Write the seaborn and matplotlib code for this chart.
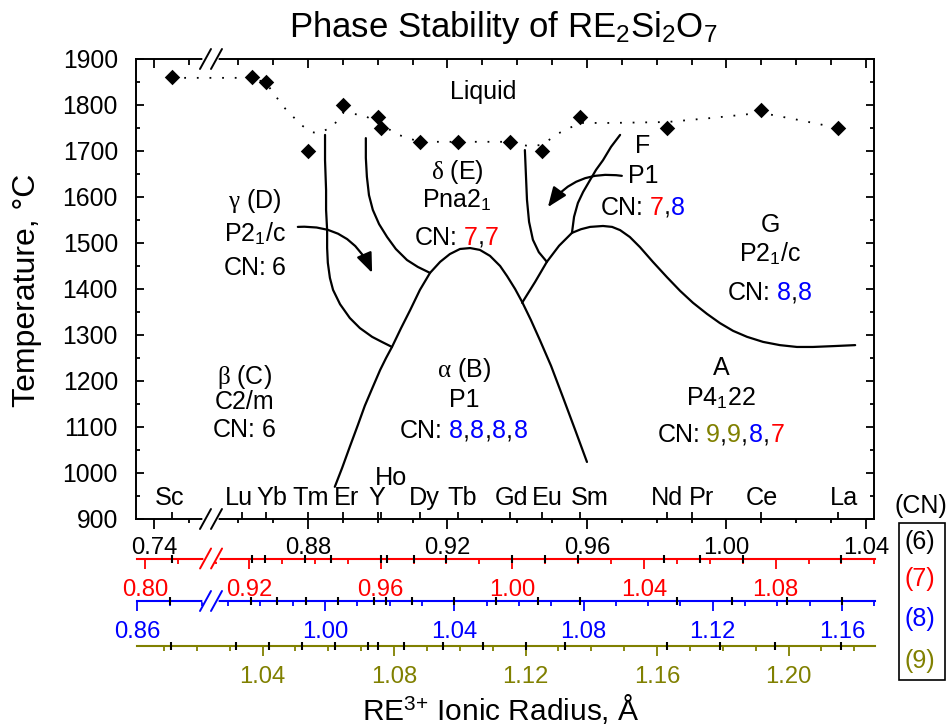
import numpy as np
import matplotlib
matplotlib.use("Agg")
import matplotlib.pyplot as plt
from matplotlib.lines import Line2D
from matplotlib.patches import Rectangle
from matplotlib.transforms import Affine2D
import seaborn as sns

sns.set_theme(style="ticks", rc={
    "axes.edgecolor": "black", "text.color": "black", "axes.labelcolor": "black",
    "xtick.color": "black", "ytick.color": "black", "axes.linewidth": 1.4,
    "figure.facecolor": "white", "axes.facecolor": "white",
})
plt.rcParams["font.family"] = ["Liberation Sans", "DejaVu Sans"]
plt.rcParams["mathtext.fontset"] = "custom"
plt.rcParams["mathtext.rm"] = "Liberation Sans"
plt.rcParams["mathtext.it"] = "Liberation Serif"
plt.rcParams["mathtext.bf"] = "Liberation Sans:bold"

RED, BLUE, OLIVE = "#ff0000", "#0000ff", "#808000"
CN_COLORS = {6: "black", 7: RED, 8: BLUE, 9: OLIVE}

# ---------------- ionic radii (Å) of the rare earths for each coordination number ----------------
elements   = ["Sc", "Lu", "Yb", "Tm", "Er", "Y", "Ho", "Dy", "Tb", "Gd", "Eu", "Sm", "Nd", "Pr", "Ce", "La"]
radius_cn6 = [0.745, 0.861, 0.868, 0.880, 0.890, 0.900, 0.901, 0.912, 0.923, 0.938, 0.947, 0.958, 0.983, 0.990, 1.010, 1.032]
radius_cn7 = [0.808, 0.921, 0.925, 0.937, 0.945, 0.960, 0.962, 0.970, 0.980, 1.000, 1.010, 1.020, 1.046, 1.057, 1.070, 1.100]
radius_cn8 = [0.870, 0.977, 0.985, 0.994, 1.004, 1.019, 1.015, 1.027, 1.040, 1.053, 1.066, 1.079, 1.109, 1.126, 1.143, 1.160]
radius_cn9 = [1.012, 1.032, 1.042, 1.052, 1.062, 1.075, 1.072, 1.083, 1.095, 1.107, 1.120, 1.132, 1.163, 1.179, 1.196, 1.216]

# ---------------- melting points of RE2Si2O7 (CN6 radius, °C) ----------------
melt_radius = [0.745, 0.864, 0.868, 0.880, 0.890, 0.900, 0.901, 0.912, 0.923, 0.938, 0.947, 0.958, 0.983, 1.010, 1.032]
melt_temp   = [1860, 1860, 1850, 1700, 1800, 1775, 1750, 1720, 1720, 1720, 1700, 1775, 1750, 1790, 1750]

# liquidus guide line
liquidus_radius = [0.745, 0.864, 0.868, 0.873, 0.878, 0.881, 0.883, 0.887, 0.890, 0.896, 0.901, 0.906,
                   0.912, 0.923, 0.938, 0.943, 0.947, 0.952, 0.958, 0.967, 0.983, 0.996, 1.010, 1.021, 1.032]
liquidus_temp   = [1859, 1859, 1848, 1796, 1757, 1741, 1739, 1752, 1783, 1778, 1757, 1735,
                   1720, 1720, 1720, 1711, 1713, 1739, 1761, 1761, 1763, 1772, 1783, 1767, 1750]

# ---------------- phase boundaries ----------------
gamma_beta_r  = [0.8849, 0.8849, 0.8852, 0.8852, 0.8855, 0.8855, 0.8857, 0.8863, 0.8872, 0.8892,
                 0.8920, 0.8949, 0.8984, 0.9012, 0.9041]
gamma_beta_T  = [1735, 1680, 1615, 1572, 1528, 1489, 1457, 1424, 1398, 1367, 1337, 1315, 1296, 1285, 1274]
gamma_delta_r = [0.8966, 0.8966, 0.8969, 0.8975, 0.8986, 0.9004, 0.9027, 0.9052, 0.9084, 0.9115, 0.9150]
gamma_delta_T = [1728, 1685, 1644, 1604, 1572, 1541, 1513, 1487, 1463, 1448, 1435]
alpha_r = [0.8877, 0.8898, 0.8920, 0.8943, 0.8963, 0.8986, 0.9007, 0.9024, 0.9041, 0.9067, 0.9093,
           0.9121, 0.9150, 0.9179, 0.9207, 0.9236, 0.9265, 0.9293, 0.9322, 0.9351, 0.9371, 0.9394,
           0.9414, 0.9439, 0.9465, 0.9497, 0.9531, 0.9566, 0.9600]
alpha_T = [970, 1011, 1057, 1104, 1146, 1187, 1224, 1250, 1274, 1315, 1354,
           1398, 1435, 1459, 1476, 1487, 1489, 1485, 1472, 1450, 1428, 1400,
           1372, 1333, 1289, 1233, 1165, 1094, 1024]
delta_f_r = [0.9422, 0.9425, 0.9428, 0.9434, 0.9445, 0.9462, 0.9485]
delta_f_T = [1702, 1648, 1594, 1546, 1507, 1480, 1459]
a_g_r = [0.9414, 0.9451, 0.9485, 0.9520, 0.9557, 0.9583, 0.9609, 0.9646, 0.9672, 0.9695, 0.9723,
         0.9752, 0.9789, 0.9829, 0.9867, 0.9904, 0.9944, 0.9981, 1.0019, 1.0059, 1.0105, 1.0153,
         1.0202, 1.0248, 1.0311, 1.0369]
a_g_T = [1370, 1415, 1459, 1494, 1522, 1530, 1535, 1537, 1535, 1528, 1513,
         1491, 1459, 1426, 1396, 1370, 1346, 1326, 1309, 1296, 1285, 1278,
         1274, 1274, 1276, 1278]
f_g_r = [0.9695, 0.9669, 0.9646, 0.9626, 0.9609, 0.9589, 0.9574, 0.9563, 0.9557]
f_g_T = [1735, 1709, 1680, 1659, 1637, 1611, 1587, 1557, 1522]

# arrows pointing from a label into a narrow field: (start, tip)
arrow_gamma = ((0.8771, 1535), (0.8984, 1435))
arrow_f     = ((0.9700, 1646), (0.9488, 1578))

# ---------------- axis tick values ----------------
temp_ticks = [900, 1000, 1100, 1200, 1300, 1400, 1500, 1600, 1700, 1800, 1900]
cn6_ticks = [0.74, 0.88, 0.92, 0.96, 1.00, 1.04]
cn7_ticks = [0.80, 0.92, 0.96, 1.00, 1.04, 1.08]
cn8_ticks = [0.86, 1.00, 1.04, 1.08, 1.12, 1.16]
cn9_ticks = [1.04, 1.08, 1.12, 1.16, 1.20]

# ---------------- phase field labels ----------------
phase_radius = [0.8648, 0.8617, 0.9227, 0.9247, 0.9761, 1.0125, 0.9984]
phase_title  = [r"$\gamma$ (D)", r"$\beta$ (C)", r"$\delta$ (E)", r"$\alpha$ (B)", "F", "G", "A"]
phase_group  = ["P2$_1$/c", "C2/m", "Pna2$_1$", "P1", "P1", "P2$_1$/c", "P4$_1$22"]
phase_cn     = [[6], [6], [7, 7], [8, 8, 8, 8], [7, 8], [8, 8], [9, 9, 8, 7]]
phase_rows_T = [(1576, 1504, 1430), (1193, 1139, 1078), (1639, 1578, 1496), (1209, 1143, 1076),
                (1696, 1630, 1561), (1524, 1459, 1376), (1213, 1148, 1067)]

# ---------------- layout ----------------
W, H = 948, 725
CN6_BREAK, CN6_LIM = (0.7563, 0.8522), (0.7348, 1.0423)
CN7_BREAK, CN7_LIM = (0.8200, 0.9085), (0.7975, 1.1102)
CN8_BREAK, CN8_LIM = (0.8828, 0.9647), (0.8599, 1.1702)
CN9_LIM = (1.0018, 1.2263)
label_nudge_px = {"Sc": -2, "Lu": -3, "Yb": 6, "Tm": 3, "Er": 4, "Y": -1, "Ho": 10, "Dy": 5,
                  "Tb": 4, "Gd": 1, "Eu": 6, "Sm": 10, "Nd": 0, "Pr": 10, "Ce": 1, "La": 6}
label_T = {"Ho": 974}
TEXT = 18


def fx(p):
    return p / W


def fy(p):
    return 1 - p / H


def broken_scale(lo, hi):
    gap = hi - lo

    def fwd(r):
        r = np.asarray(r, dtype=float)
        return np.where(r <= lo, r, np.where(r >= hi, r - gap, lo))

    def inv(t):
        t = np.asarray(t, dtype=float)
        return np.where(t <= lo, t, t + gap)
    return fwd, inv


def minor_between(start, stop, majors):
    vals = np.round(np.arange(start, stop + 1e-9, 0.01), 3)
    return [v for v in vals if not np.any(np.isclose(v, majors))]


def draw_break(axis, brk, lims, fwd, where, color):
    t = fwd(np.array([lims[0], brk[0], lims[1]]))
    frac = (t[1] - t[0]) / (t[2] - t[0])
    pos = axis.get_position()
    xc = pos.x0 + frac * pos.width
    yc = pos.y1 if where == "top" else pos.y0
    dx, dy, sep = 5.5 / W, 10 / H, 5.5 / W
    fig.add_artist(Line2D([xc - sep, xc + sep], [yc, yc], color="white", lw=4,
                          transform=fig.transFigure, zorder=3))
    for s in (-sep, sep):
        fig.add_artist(Line2D([xc + s - dx, xc + s + dx], [yc - dy, yc + dy], color=color, lw=1.4,
                              transform=fig.transFigure, zorder=4))


fig = plt.figure(figsize=(W / 100, H / 100), dpi=100)
ax = fig.add_axes([fx(136), fy(519), (874 - 136) / W, (519 - 59) / H])

# phase boundaries, liquidus and melting points
for r, t in [(gamma_beta_r, gamma_beta_T), (gamma_delta_r, gamma_delta_T), (alpha_r, alpha_T),
             (delta_f_r, delta_f_T), (a_g_r, a_g_T), (f_g_r, f_g_T)]:
    sns.lineplot(x=r, y=t, sort=False, estimator=None, color="black", linewidth=1.6, ax=ax)
sns.lineplot(x=liquidus_radius, y=liquidus_temp, sort=False, estimator=None, color="black",
             linewidth=1.3, linestyle=(0, (1, 6)), ax=ax)
sns.scatterplot(x=melt_radius, y=melt_temp, marker="D", s=62, color="black", linewidth=0,
                zorder=5, legend=False, ax=ax)

fwd6, inv6 = broken_scale(*CN6_BREAK)
ax.set_xscale("function", functions=(fwd6, inv6))
ax.set_xlim(*CN6_LIM)
ax.set_ylim(900, 1900)

ax.set_xticks(cn6_ticks, [f"{v:.2f}" for v in cn6_ticks])
ax.set_xticks([0.75] + minor_between(0.86, 1.04, cn6_ticks), minor=True)
ax.tick_params(axis="x", which="major", direction="out", length=7, width=1.3, labelsize=17.2, pad=6)
ax.tick_params(axis="x", which="minor", direction="out", length=3, width=1.3)
ax.set_yticks(temp_ticks, [str(v) for v in temp_ticks])
ax.set_yticks([v + 50 for v in temp_ticks[:-1]], minor=True)
ax.tick_params(axis="y", which="major", direction="in", length=6, width=1.3, left=True, right=True,
               labelsize=17.8, pad=13)
ax.tick_params(axis="y", which="minor", direction="in", length=3, width=1.3, left=True, right=True)

# inward ticks along the top edge
ax_top = ax.twiny()
ax_top.set_xscale("function", functions=(fwd6, inv6))
ax_top.set_xlim(*CN6_LIM)
ax_top.xaxis.set_ticks_position("top")
ax_top.set_xticks(cn6_ticks)
ax_top.set_xticks([0.75] + minor_between(0.86, 1.04, cn6_ticks), minor=True)
ax_top.tick_params(axis="x", which="major", direction="in", length=6.5, width=1.3, labeltop=False)
ax_top.tick_params(axis="x", which="minor", direction="in", length=4, width=1.3, labeltop=False)
for s in ax_top.spines.values():
    s.set_visible(False)

# element positions marked on the inside of the bottom edge
ax_el = ax.twiny()
ax_el.set_xscale("function", functions=(fwd6, inv6))
ax_el.set_xlim(*CN6_LIM)
ax_el.xaxis.set_ticks_position("bottom")
ax_el.set_xticks(radius_cn6)
ax_el.tick_params(axis="x", direction="in", length=5, width=1.3, labelbottom=False, labeltop=False)
ax_el.xaxis.set_minor_locator(matplotlib.ticker.NullLocator())
for s in ax_el.spines.values():
    s.set_visible(False)

for name, r in zip(elements, radius_cn6):
    ax.annotate(name, xy=(r, label_T.get(name, 930)), xytext=(label_nudge_px[name] * 0.72, 0),
                textcoords="offset points", ha="center", va="baseline", fontsize=18.2)

# arrows
ax.annotate("", xy=arrow_gamma[1], xytext=arrow_gamma[0],
            arrowprops=dict(arrowstyle="-|>,head_length=0.6,head_width=0.24",
                            connectionstyle="arc3,rad=-0.35", color="black", lw=1.6,
                            shrinkA=0, shrinkB=0, mutation_scale=20))
ax.annotate("", xy=arrow_f[1], xytext=arrow_f[0],
            arrowprops=dict(arrowstyle="-|>,head_length=0.6,head_width=0.24",
                            connectionstyle="arc3,rad=0.3", color="black", lw=1.6,
                            shrinkA=0, shrinkB=0, mutation_scale=20))

# phase field labels
ax.text(0.9302, 1813, "Liquid", ha="center", va="baseline", fontsize=TEXT)
cn_groups = []
for r, title, group, cns, rows in zip(phase_radius, phase_title, phase_group, phase_cn, phase_rows_T):
    ax.text(r, rows[0], title, ha="center", va="baseline", fontsize=TEXT)
    ax.text(r, rows[1], group, ha="center", va="baseline", fontsize=TEXT)
    first = ax.text(r, rows[2], "CN:", ha="left", va="baseline", fontsize=TEXT, color="black")
    pieces, prev = [first], first
    for k, n in enumerate(cns):
        gap = 4.0
        if k:
            prev = ax.annotate(",", xy=(1, 0), xycoords=prev, xytext=(0.0, 0), textcoords="offset points",
                               ha="left", va="bottom", fontsize=TEXT, color="black")
            pieces.append(prev)
            gap = 0.6
        prev = ax.annotate(str(n), xy=(1, 0), xycoords=prev, xytext=(gap, 0), textcoords="offset points",
                           ha="left", va="bottom", fontsize=TEXT, color=CN_COLORS[n])
        pieces.append(prev)
    cn_groups.append(pieces)


# secondary radius scales for CN 7, 8 and 9
def radius_axis(y_px, lims, brk, majors, minors, element_r, color):
    a = fig.add_axes([fx(137), fy(y_px), (875 - 137) / W, 0.01])
    fwd = inv = None
    if brk is not None:
        fwd, inv = broken_scale(*brk)
        a.set_xscale("function", functions=(fwd, inv))
    a.set_xlim(*lims)
    a.set_yticks([])
    a.patch.set_visible(False)
    for s in ("left", "right", "top"):
        a.spines[s].set_visible(False)
    a.spines["bottom"].set_color(color)
    a.spines["bottom"].set_linewidth(1.5)
    a.set_xticks(majors, [f"{v:.2f}" for v in majors])
    a.set_xticks(minors, minor=True)
    a.tick_params(axis="x", which="major", direction="out", length=7, width=1.3, color=color,
                  labelcolor=color, labelsize=17.2, pad=7.5)
    a.tick_params(axis="x", which="minor", direction="out", length=3.6, width=1.3, color=color)
    e = a.twiny()
    if brk is not None:
        e.set_xscale("function", functions=(fwd, inv))
    e.set_xlim(*lims)
    e.xaxis.set_ticks_position("bottom")
    e.set_xticks(element_r)
    e.xaxis.set_minor_locator(matplotlib.ticker.NullLocator())
    e.tick_params(axis="x", direction="inout", length=6, width=1.5, color="black",
                  labelbottom=False, labeltop=False)
    for s in e.spines.values():
        s.set_visible(False)
    if brk is not None:
        draw_break(a, brk, lims, fwd, "bottom", color)
    return a


radius_axis(558.5, CN7_LIM, CN7_BREAK, cn7_ticks, [0.81] + minor_between(0.91, 1.11, cn7_ticks), radius_cn7, RED)
radius_axis(601, CN8_LIM, CN8_BREAK, cn8_ticks, [0.87, 0.88] + minor_between(0.97, 1.17, cn8_ticks), radius_cn8, BLUE)
radius_axis(646, CN9_LIM, None, cn9_ticks, minor_between(1.01, 1.22, cn9_ticks), radius_cn9, OLIVE)

draw_break(ax, CN6_BREAK, CN6_LIM, fwd6, "bottom", "black")
draw_break(ax, CN6_BREAK, CN6_LIM, fwd6, "top", "black")

# titles and axis labels
fig.text(fx(503.5), fy(37), "Phase Stability of RE$_2$Si$_2$O$_7$", ha="center", va="baseline", fontsize=25)
fig.text(fx(27), fy(290), "Temperature, °C", rotation=90, ha="center", va="center", fontsize=23)
fig.text(fx(501), fy(720), r"RE$^{3{+}}$ Ionic Radius, Å", ha="center", va="baseline", fontsize=21.5)

# coordination-number key
fig.text(fx(921), fy(506), "(CN)", ha="center", va="center", fontsize=18)
for n, ypx in zip([6, 7, 8, 9], [542, 579, 619, 661]):
    fig.text(fx(920), fy(ypx), f"({n})", ha="center", va="center", fontsize=18, color=CN_COLORS[n])
fig.add_artist(Rectangle((fx(899), fy(680)), (945 - 899) / W, (680 - 523) / H, fill=False,
                         edgecolor="black", lw=1.2, transform=fig.transFigure))

# centre the multi-coloured CN lines on their anchor
fig.canvas.draw()
for pieces in cn_groups:
    x0 = pieces[0].get_window_extent().x0
    x1 = pieces[-1].get_window_extent().x1
    pieces[0].set_transform(ax.transData + Affine2D().translate(-(x1 - x0) / 2, 0))

fig.savefig("out.png", dpi=100)
